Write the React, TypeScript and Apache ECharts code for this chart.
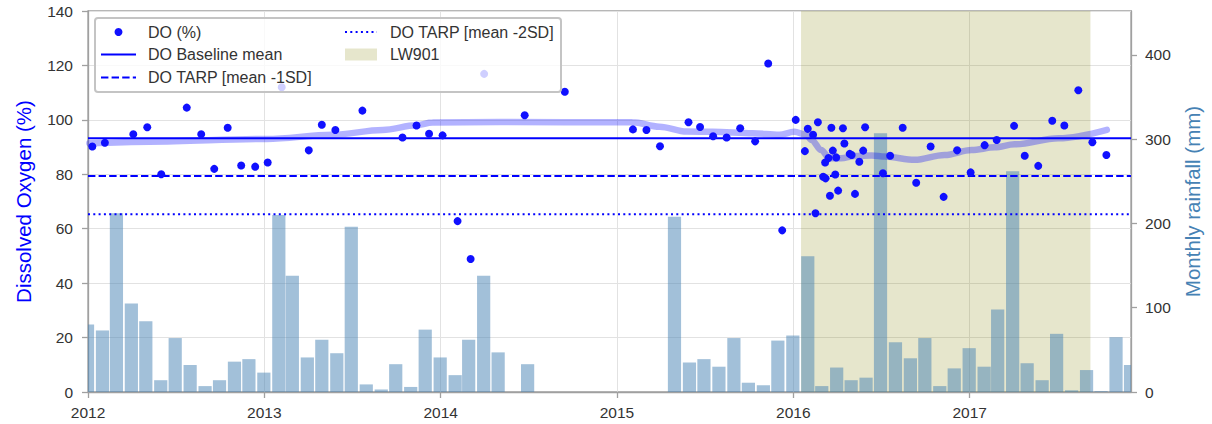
import React, { useEffect, useRef } from "react";
import * as echarts from "echarts";

// ---------- DATA ----------
const X_START = "2012-01-01";
const X_END = "2017-12-01";

// Dissolved oxygen samples (%)
const doDates = [
  "2012-01-10", "2012-02-05", "2012-04-04", "2012-05-03", "2012-06-01", "2012-07-24",
  "2012-08-23", "2012-09-19", "2012-10-17", "2012-11-14", "2012-12-13", "2013-01-08",
  "2013-02-06", "2013-04-03", "2013-04-30", "2013-05-28", "2013-07-23", "2013-10-14",
  "2013-11-12", "2013-12-08", "2014-01-05", "2014-02-05", "2014-03-04", "2014-04-01",
  "2014-06-24", "2014-09-15", "2015-02-03", "2015-03-03", "2015-03-31", "2015-05-29",
  "2015-06-22", "2015-07-19", "2015-08-16", "2015-09-13", "2015-10-14", "2015-11-10",
  "2015-12-09", "2016-01-06", "2016-01-25", "2016-01-31", "2016-02-11", "2016-02-16",
  "2016-02-21", "2016-03-03", "2016-03-07", "2016-03-08", "2016-03-14", "2016-03-17",
  "2016-03-20", "2016-03-23", "2016-03-28", "2016-03-30", "2016-04-03", "2016-04-13",
  "2016-04-16", "2016-04-27", "2016-05-01", "2016-05-08", "2016-05-17", "2016-05-25",
  "2016-05-29", "2016-07-05", "2016-07-20", "2016-08-15", "2016-09-12", "2016-10-12",
  "2016-11-08", "2016-12-06", "2017-01-03", "2017-02-01", "2017-02-26", "2017-04-03",
  "2017-04-25", "2017-05-23", "2017-06-21", "2017-07-16", "2017-08-14", "2017-09-12",
  "2017-10-11",
];
const doValues = [
  90.2, 91.6, 94.7, 97.3, 80.0, 104.5,
  94.7, 82.0, 97.1, 83.2, 82.8, 84.3,
  112.0, 88.8, 98.2, 96.3, 103.4, 93.5,
  97.9, 94.9, 94.3, 62.8, 48.9, 116.9,
  101.7, 110.3, 96.5, 96.3, 90.3, 99.1,
  97.4, 94.0, 93.5, 96.9, 92.1, 120.7,
  59.4, 100.0, 88.5, 96.7, 94.5, 65.7,
  99.1, 79.1, 84.3, 78.5, 86.0, 72.1,
  97.1, 88.7, 79.9, 86.2, 74.0, 96.9,
  91.3, 87.5, 87.1, 72.8, 84.6, 88.7,
  97.3, 80.4, 86.8, 97.1, 76.9, 90.2,
  71.7, 88.8, 80.7, 90.7, 92.6, 97.8,
  86.8, 83.1, 99.7, 97.9, 110.9, 91.8,
  87.1,
];

// Smoothed DO trend (%)
const trendDates = [
  "2012-01-04", "2012-05-08", "2013-01-06", "2013-05-22", "2013-09-03", "2013-11-12",
  "2013-12-15", "2014-05-03", "2015-02-02", "2015-03-30", "2015-05-25", "2015-07-18",
  "2015-10-09", "2015-12-03", "2016-01-03", "2016-01-28", "2016-02-08", "2016-02-28",
  "2016-03-16", "2016-04-09", "2016-05-08", "2016-06-12", "2016-07-09", "2016-09-09",
  "2016-11-10", "2017-01-05", "2017-02-22", "2017-04-04", "2017-07-04", "2017-10-12",
];
const trendValues = [
  91.4, 92.0, 93.0, 94.5, 96.3, 98.0,
  99.0, 99.2, 99.1, 97.5, 95.7, 95.6,
  95.1, 94.5, 95.6, 94.5, 92.6, 88.9,
  85.9, 85.9, 86.7, 86.9, 86.5, 85.3,
  87.1, 88.9, 89.9, 91.0, 93.2, 96.3,
];

// Monthly rainfall (mm), one value per month from Dec 2011 to Nov 2017
const RAIN_START_YEAR = 2011;
const RAIN_START_MONTH = 12;
const rainfall: (number | null)[] = [
  80,
  73, 212, 105, 84, 14, 64, 32, 7, 14, 36, 39, 23,
  210, 138, 41, 62, 46, 196, 9, 3, 33, 6, 74, 41,
  20, 62, 138, 47, null, 33, null, null, null, null, null, null,
  null, null, null, 208, 35, 39, 30, 64, 11, 8, 61, 67,
  161, 7, 29, 14, 17, 307, 59, 40, 64, 7, 28, 52,
  30, 98, 262, 34, 14, 69, 2, 26, 1, 65, 32,
];

const baselineMean = 93.2;
const tarp1SD = 79.4;
const tarp2SD = 65.3;

const lw901Start = "2016-01-17";
const lw901End = "2017-09-08";

const legendLabels = [
  "DO (%)",
  "DO Baseline mean",
  "DO TARP [mean -1SD]",
  "DO TARP [mean -2SD]",
  "LW901",
];

// ---------- HELPERS ----------
function toYear(s: string): number {
  const [y, m, d] = s.split("-").map(Number);
  const t = Date.UTC(y, m - 1, d);
  const a = Date.UTC(y, 0, 1);
  const b = Date.UTC(y + 1, 0, 1);
  return y + (t - a) / (b - a);
}
function monthEnd(i: number): string {
  const dt = new Date(Date.UTC(RAIN_START_YEAR, RAIN_START_MONTH - 1 + i + 1, 0));
  return `${dt.getUTCFullYear()}-${dt.getUTCMonth() + 1}-${dt.getUTCDate()}`;
}

const FONT = "'Liberation Sans', Arial, sans-serif";
const SPINE = "#a0a0a0";
const GRIDC = "#e2e2e2";
const TXT = "#333333";
const BLUE = "#0000ff";
const DOT = "#1010ff";
const SHADE = "rgba(128,128,0,0.2)";
const BAR_FILL = "rgba(70,130,180,0.5)";
const BAR_W = 13.2;

export default function App() {
  const ref = useRef<HTMLDivElement>(null);

  useEffect(() => {
    if (!ref.current) return;
    const chart = echarts.init(ref.current, undefined, { renderer: "svg" });
    const xMin = toYear(X_START);
    const xMax = toYear(X_END);

    const rainData = rainfall
      .map((v, i) => [toYear(monthEnd(i)), v])
      .filter((p) => p[1] != null);
    const doData = doDates.map((d, i) => [toYear(d), doValues[i]]);
    const trendData = trendDates.map((d, i) => [toYear(d), trendValues[i]]);
    const hline = (v: number) => [
      [xMin, v],
      [xMax, v],
    ];

    const axisCommon = {
      axisLine: { show: true, lineStyle: { color: SPINE, width: 1.3 } },
      axisTick: { show: true, length: 6, lineStyle: { color: SPINE, width: 1.3 } },
    };

    const legendFont = `16px ${FONT}`;
    const lx1 = 101, lx2 = 345, tx1 = 148, tx2 = 390;
    const r1 = 32, r2 = 54.5, r3 = 77.5;

    const option: any = {
      animation: false,
      textStyle: { fontFamily: FONT },
      grid: {
        left: 88,
        right: 81,
        top: 11,
        bottom: 32,
        show: true,
        borderColor: SPINE,
        borderWidth: 1.3,
        backgroundColor: "transparent",
      },
      xAxis: {
        type: "value",
        min: xMin,
        max: xMax,
        interval: 1,
        ...axisCommon,
        axisLabel: {
          formatter: (v: number) => String(Math.round(v)),
          showMaxLabel: false,
          color: TXT,
          fontSize: 15.5,
          margin: 12,
        },
        splitLine: { show: true, lineStyle: { color: GRIDC, width: 1 } },
      },
      yAxis: [
        {
          type: "value",
          position: "left",
          min: 0,
          max: 140,
          interval: 20,
          name: "Dissolved Oxygen (%)",
          nameLocation: "middle",
          nameRotate: 90,
          nameGap: 54,
          nameTextStyle: { color: BLUE, fontSize: 20.5, fontFamily: FONT },
          ...axisCommon,
          axisLabel: { color: TXT, fontSize: 15.5, margin: 15 },
          splitLine: { show: true, lineStyle: { color: GRIDC, width: 1 } },
        },
        {
          type: "value",
          position: "right",
          min: 0,
          max: 452,
          interval: 100,
          name: "Monthly rainfall (mm)",
          nameLocation: "middle",
          nameRotate: 90,
          nameGap: 48,
          nameTextStyle: { color: "steelblue", fontSize: 20.5, fontFamily: FONT },
          ...axisCommon,
          axisLabel: { color: TXT, fontSize: 15.5, margin: 14, showMaxLabel: false },
          splitLine: { show: false },
        },
      ],
      series: [
        {
          type: "custom",
          name: "Monthly rainfall",
          xAxisIndex: 0,
          yAxisIndex: 1,
          data: rainData,
          clip: true,
          silent: true,
          z: 2,
          encode: { x: 0, y: 1 },
          renderItem: (params: any, api: any) => {
            const x = api.value(0);
            const y = api.value(1);
            const p0 = api.coord([x, 0]);
            const p1 = api.coord([x, y]);
            return {
              type: "rect",
              shape: { x: p0[0] - BAR_W / 2, y: p1[1], width: BAR_W, height: p0[1] - p1[1] },
              style: { fill: BAR_FILL },
            };
          },
          markArea: {
            silent: true,
            itemStyle: { color: SHADE },
            label: { show: false },
            data: [[{ xAxis: toYear(lw901Start) }, { xAxis: toYear(lw901End) }]],
          },
        },
        {
          type: "line",
          name: "DO trend",
          yAxisIndex: 0,
          data: trendData,
          smooth: 0.35,
          smoothMonotone: "x",
          showSymbol: false,
          symbol: "none",
          silent: true,
          lineStyle: { width: 6.5, color: "rgba(0,0,255,0.3)", cap: "round" },
          z: 3,
        },
        {
          type: "line",
          name: legendLabels[1],
          yAxisIndex: 0,
          data: hline(baselineMean),
          symbol: "none",
          silent: true,
          lineStyle: { width: 2, color: BLUE, type: "solid" },
          z: 4,
        },
        {
          type: "line",
          name: legendLabels[2],
          yAxisIndex: 0,
          data: hline(tarp1SD),
          symbol: "none",
          silent: true,
          lineStyle: { width: 2, color: BLUE, type: [7.4, 3.2] },
          z: 4,
        },
        {
          type: "line",
          name: legendLabels[3],
          yAxisIndex: 0,
          data: hline(tarp2SD),
          symbol: "none",
          silent: true,
          lineStyle: { width: 2, color: BLUE, type: [2, 3.3] },
          z: 4,
        },
        {
          type: "scatter",
          name: legendLabels[0],
          yAxisIndex: 0,
          data: doData,
          symbol: "circle",
          symbolSize: 8,
          itemStyle: { color: DOT, opacity: 1 },
          silent: true,
          z: 5,
        },
      ],
      graphic: [
        {
          type: "rect",
          z: 100,
          shape: { x: 95, y: 18, width: 466, height: 74, r: 3 },
          style: { fill: "rgba(255,255,255,0.8)", stroke: "#c4c4c4", lineWidth: 2 },
        },
        { type: "circle", z: 101, shape: { cx: 118.5, cy: r1, r: 4 }, style: { fill: DOT } },
        { type: "line", z: 101, shape: { x1: lx1, y1: r2, x2: lx1 + 35, y2: r2 }, style: { stroke: BLUE, lineWidth: 2 } },
        { type: "line", z: 101, shape: { x1: lx1, y1: r3, x2: lx1 + 35, y2: r3 }, style: { stroke: BLUE, lineWidth: 2, lineDash: [7.4, 3.2] } },
        { type: "line", z: 101, shape: { x1: lx2, y1: r1, x2: lx2 + 32, y2: r1 }, style: { stroke: BLUE, lineWidth: 2, lineDash: [2, 3.3] } },
        { type: "rect", z: 101, shape: { x: lx2, y: r2 - 6, width: 32, height: 12 }, style: { fill: SHADE } },
        { type: "text", z: 101, x: tx1, y: r1, style: { text: legendLabels[0], font: legendFont, fill: TXT, verticalAlign: "middle" } },
        { type: "text", z: 101, x: tx1, y: r2, style: { text: legendLabels[1], font: legendFont, fill: TXT, verticalAlign: "middle" } },
        { type: "text", z: 101, x: tx1, y: r3, style: { text: legendLabels[2], font: legendFont, fill: TXT, verticalAlign: "middle" } },
        { type: "text", z: 101, x: tx2, y: r1, style: { text: legendLabels[3], font: legendFont, fill: TXT, verticalAlign: "middle" } },
        { type: "text", z: 101, x: tx2, y: r2, style: { text: legendLabels[4], font: legendFont, fill: TXT, verticalAlign: "middle" } },
      ],
    };

    chart.setOption(option);
    return () => chart.dispose();
  }, []);

  return (
    <div
      ref={ref}
      style={{ position: "absolute", left: 0, top: 0, width: 1212, height: 424, background: "#fff" }}
    />
  );
}
